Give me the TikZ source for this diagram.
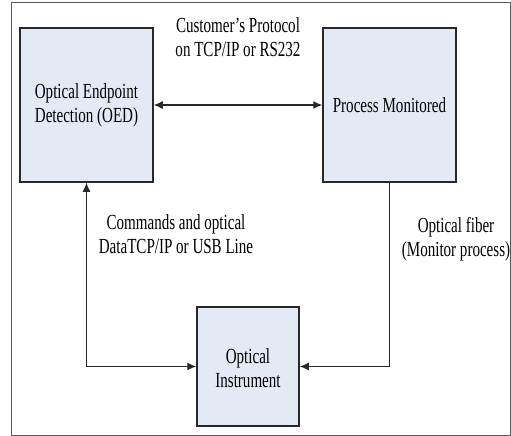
\documentclass[tikz,border=0pt]{standalone}
\usepackage{fontspec}
\setmainfont{Liberation Serif}[FakeStretch=0.7]
\usetikzlibrary{arrows.meta}
\definecolor{boxfill}{RGB}{228,234,245}
\definecolor{boxline}{RGB}{40,40,40}

\begin{document}
\begin{tikzpicture}[x=1pt,y=-1pt]
\tikzstyle{every node}+=[font=\fontsize{21.5}{24}\selectfont, align=center]
\tikzstyle{unit}=[draw=boxline, fill=boxfill, line width=1.5pt, inner sep=0pt]
\tikzstyle{tip}=[-{Latex[length=9pt,width=8pt]}]
\tikzstyle{link}=[draw=boxline, line width=1.2pt]
\useasboundingbox (0,0) rectangle (511,436);
\draw [gray!70!black, line width=1pt] (11,3) rectangle (510.5,435);
\node [unit, minimum width=133pt, minimum height=154pt] (oed) at (86.5,105) {Optical Endpoint\\Detection (OED)};
\node [unit, minimum width=133pt, minimum height=154pt] (pm) at (389.5,105) {Process Monitored};
\node [unit, minimum width=102pt, minimum height=119pt] (inst) at (248,366.5) {\\[-6pt]Optical\\Instrument};
\node (proto) at (238,37) {Customer's Protocol\\on TCP/IP or RS232};
\node (cmd) at (176,234) {Commands and optical\\DataTCP/IP or USB Line};
\node (fiber) at (456,239) {Optical fiber\\(Monitor process)};
\draw [link, {Latex[length=9pt,width=8pt]}-{Latex[length=9pt,width=8pt]}] (oed) -- (pm);
\draw [link, {Latex[length=9pt,width=8pt]}-{Latex[length=9pt,width=8pt]}] (oed.south) |- (inst.west);
\draw [link, tip] (pm.south) |- (inst.east);
\end{tikzpicture}
\end{document}
